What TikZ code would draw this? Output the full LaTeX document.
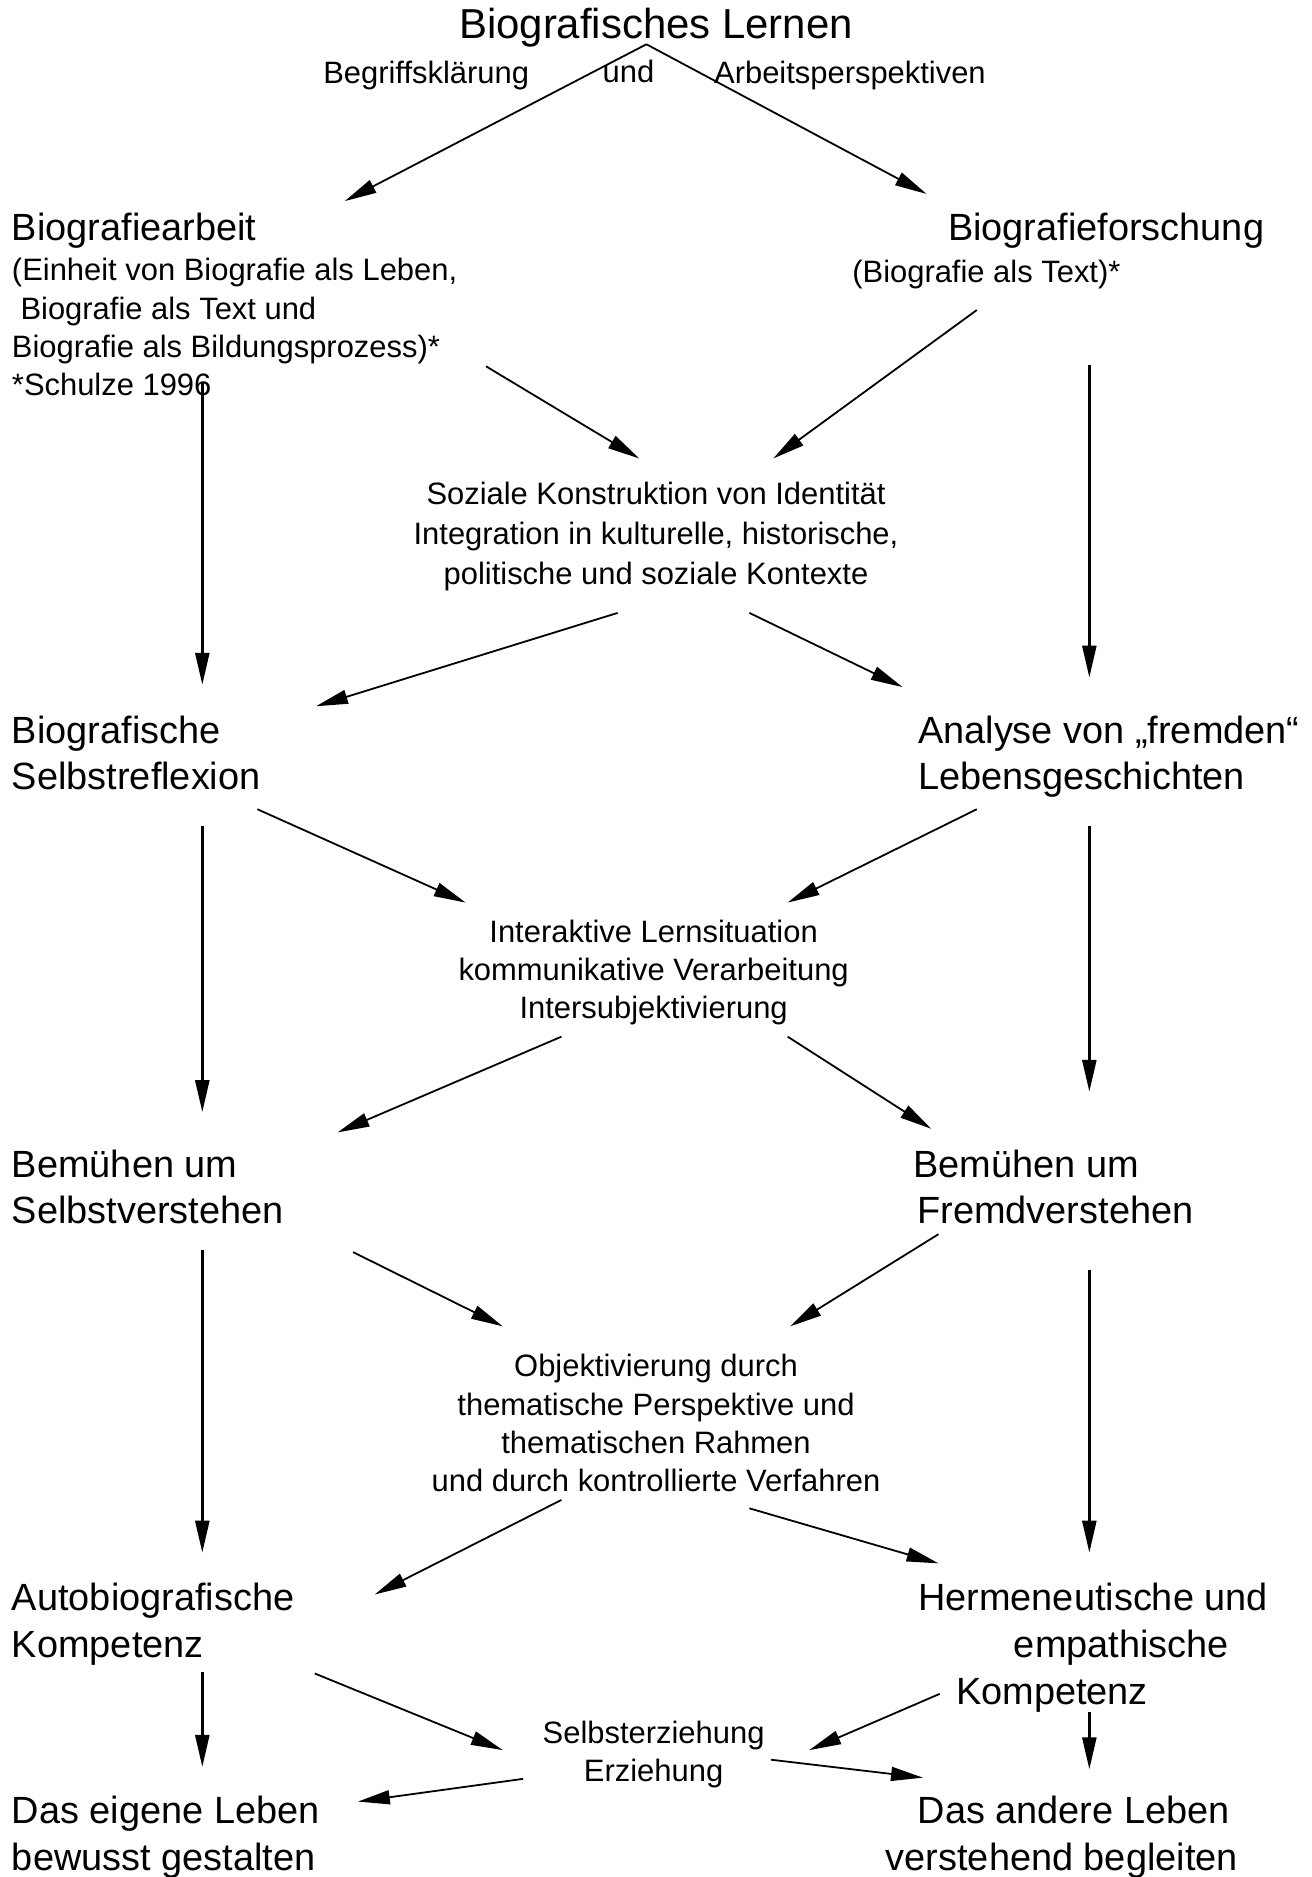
\documentclass[tikz,border=0pt]{standalone}
\usepackage{fontspec}
\setmainfont{Liberation Sans}
\usetikzlibrary{arrows.meta}
\tikzstyle{block} = [inner sep=0pt, outer sep=0pt]
\tikzstyle{topic} = [block, anchor=west, align=left, font=\fontsize{19}{23.4}\selectfont]
\tikzstyle{remark} = [block, align=center, font=\fontsize{15.5}{19.2}\selectfont]
\tikzstyle{note} = [remark, anchor=west, align=left]
\tikzstyle{flow} = [-{Triangle[length=16pt, width=7pt]}, line width=0.9pt]
\tikzstyle{down} = [flow, line width=1.3pt]

\begin{document}
\begin{tikzpicture}[x=0.6pt, y=-0.6pt]
    \useasboundingbox (0,0) rectangle (1096,1568);

    % Title.
    \node (lernen) [block, font=\fontsize{21}{25}\selectfont] at (548,23) {Biografisches Lernen};
    \node (begriff) [remark] at (356,63) {Begriffsklärung};
    \node (und) [remark] at (525,60) {und};
    \node (perspektive) [remark] at (710,63) {Arbeitsperspektiven};

    % Left column.
    \node (arbeit) [topic] at (10,193) {Biografiearbeit};
    \node (arbeitnote) [note] at (10,273.5) {(Einheit von Biografie als Leben,\\
        \ Biografie als Text und\\ Biografie als Bildungsprozess)*\\ *Schulze 1996};
    \node (reflexion) [topic] at (10,629) {Biografische\\ Selbstreflexion};
    \node (selbstverst) [topic] at (10,991.5) {Bemühen um\\ Selbstverstehen};
    \node (autobio) [topic] at (10,1357) {Autobiografische\\ Kompetenz};
    \node (eigenes) [topic] at (10,1535) {Das eigene Leben\\ bewusst gestalten};

    % Right column.
    \node (forschung) [topic] at (792,193) {Biografieforschung};
    \node (forschungnote) [note] at (712,229) {(Biografie als Text)*};
    \node (fremde) [topic] at (767,632) {Analyse von „fremden“\\ Lebensgeschichten};
    \node (fremdverst) [topic] at (763,991.5) {Bemühen um\\ \hspace*{2pt}Fremdverstehen};
    \node (hermen) [topic] at (767,1376.5) {Hermeneutische und\\ \hspace*{48pt}empathische\\ \hspace*{19pt}Kompetenz};
    \node (anderes) [topic] at (740,1535) {\hspace*{16pt}Das andere Leben\\ verstehend begleiten};

    % Middle.
    \node (soziale) [remark, font=\fontsize{15.5}{20}\selectfont] at (548,448) {Soziale Konstruktion von Identität\\
        Integration in kulturelle, historische,\\ politische und soziale Kontexte};
    \node (interaktiv) [remark] at (546,812.5) {Interaktive Lernsituation\\
        kommunikative Verarbeitung\\ Intersubjektivierung};
    \node (objekt) [remark] at (548,1189) {Objektivierung durch\\
        thematische Perspektive und\\ thematischen Rahmen\\ und durch kontrollierte Verfahren};
    \node (erziehung) [remark] at (546,1465.5) {Selbsterziehung\\ Erziehung};

    % Arrows from the title.
    \draw [flow] ([shift={(-8,14)}]lernen.center) -- ([shift={(278,-25)}]arbeit.west);
    \draw [flow] ([shift={(-8,14)}]lernen.center) -- ([shift={(-18,-31)}]forschung.west);

    % Arrows into the middle.
    \draw [flow] ([shift={(396,32.5)}]arbeitnote.west) -- ([shift={(-14,-65)}]soziale.center);
    \draw [flow] ([shift={(104,30)}]forschungnote.west) -- ([shift={(98,-65)}]soziale.center);
    \draw [flow] ([shift={(205,47)}]reflexion.west) -- ([shift={(-157,-58.5)}]interaktiv.center);
    \draw [flow] ([shift={(49,44)}]fremde.west) -- ([shift={(112,-58.5)}]interaktiv.center);
    \draw [flow] ([shift={(285,54.5)}]selbstverst.west) -- ([shift={(-128,-81)}]objekt.center);
    \draw [flow] ([shift={(21,39.5)}]fremdverst.west) -- ([shift={(112,-81)}]objekt.center);
    \draw [flow] ([shift={(253,41)}]autobio.west) -- ([shift={(-126,-3.5)}]erziehung.center);
    \draw [flow] ([shift={(18,38.5)}]hermen.west) -- ([shift={(130,-3.5)}]erziehung.center);

    % Arrows out of the middle.
    \draw [flow] ([shift={(-32,64)}]soziale.center) -- ([shift={(254,-39)}]reflexion.west);
    \draw [flow] ([shift={(78,64)}]soziale.center) -- ([shift={(-13,-58)}]fremde.west);
    \draw [flow] ([shift={(-77,53.5)}]interaktiv.center) -- ([shift={(272,-45.5)}]selbstverst.west);
    \draw [flow] ([shift={(112,53.5)}]interaktiv.center) -- ([shift={(15,-48.5)}]fremdverst.west);
    \draw [flow] ([shift={(-79,64)}]objekt.center) -- ([shift={(303,-25)}]autobio.west);
    \draw [flow] ([shift={(78,71)}]objekt.center) -- ([shift={(17,-70.5)}]hermen.west);
    \draw [flow] ([shift={(-109,20.5)}]erziehung.center) -- ([shift={(289,-30)}]eigenes.west);
    \draw [flow] ([shift={(98,4.5)}]erziehung.center) -- ([shift={(31,-50)}]anderes.west);

    % Vertical arrows.
    \draw [down] ([shift={(159,46.5)}]arbeitnote.west) -- ([shift={(159,-57)}]reflexion.west);
    \draw [down] ([shift={(159,61)}]reflexion.west) -- ([shift={(159,-62.5)}]selbstverst.west);
    \draw [down] ([shift={(159,52.5)}]selbstverst.west) -- ([shift={(159,-60)}]autobio.west);
    \draw [down] ([shift={(159,40)}]autobio.west) -- ([shift={(159,-59)}]eigenes.west);
    \draw [down] ([shift={(198,76)}]forschungnote.west) -- ([shift={(143,-66)}]fremde.west);
    \draw [down] ([shift={(143,58)}]fremde.west) -- ([shift={(147,-79.5)}]fremdverst.west);
    \draw [down] ([shift={(147,69.5)}]fremdverst.west) -- ([shift={(143,-79.5)}]hermen.west);
    \draw [down] ([shift={(143,53.5)}]hermen.west) -- ([shift={(170,-57)}]anderes.west);
\end{tikzpicture}
\end{document}
